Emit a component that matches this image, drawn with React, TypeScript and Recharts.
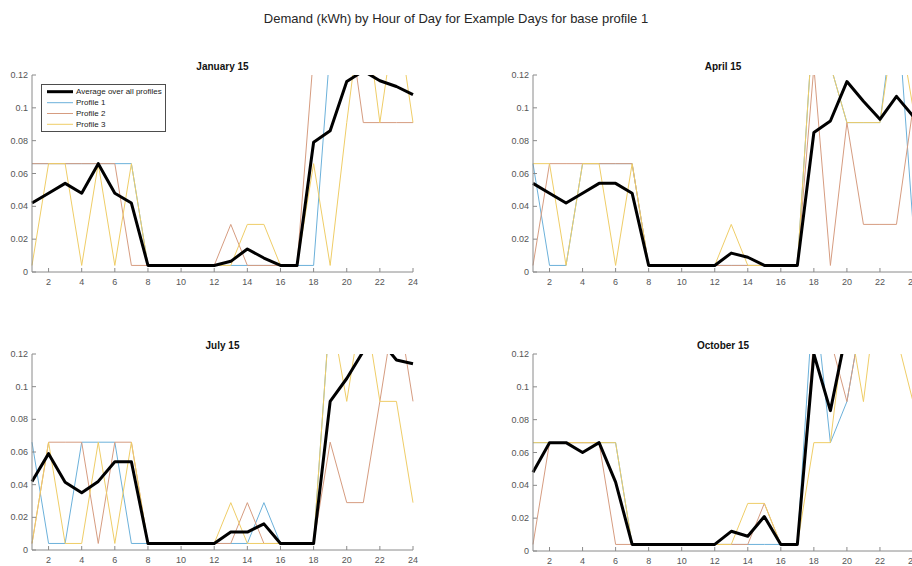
import React from 'react';
import { LineChart, Line, XAxis, YAxis, Legend } from 'recharts';

// Hours of the day and axis ticks
const HOURS = [1, 2, 3, 4, 5, 6, 7, 8, 9, 10, 11, 12, 13, 14, 15, 16, 17, 18, 19, 20, 21, 22, 23, 24];
const HOUR_TICKS = [2, 4, 6, 8, 10, 12, 14, 16, 18, 20, 22, 24];
const DEMAND_TICKS = [0, 0.02, 0.04, 0.06, 0.08, 0.1, 0.12];

// January 15 (kWh)
const JAN_AVG = [0.042, 0.048, 0.054, 0.048, 0.066, 0.048, 0.042, 0.004, 0.004, 0.004, 0.004, 0.004, 0.0065, 0.014, 0.0085, 0.004, 0.004, 0.079, 0.086, 0.116, 0.1225, 0.1165, 0.113, 0.108];
const JAN_P1 = [0.066, 0.066, 0.066, 0.066, 0.066, 0.066, 0.066, 0.004, 0.004, 0.004, 0.004, 0.004, 0.004, 0.004, 0.004, 0.004, 0.004, 0.004, 0.137, 0.15, 0.16, 0.15, 0.16, 0.15];
const JAN_P2 = [0.066, 0.066, 0.066, 0.066, 0.066, 0.066, 0.004, 0.004, 0.004, 0.004, 0.004, 0.004, 0.029, 0.004, 0.004, 0.004, 0.004, 0.133, 0.16, 0.163, 0.091, 0.091, 0.091, 0.091];
const JAN_P3 = [0.004, 0.066, 0.066, 0.004, 0.066, 0.004, 0.066, 0.004, 0.004, 0.004, 0.004, 0.004, 0.004, 0.029, 0.029, 0.004, 0.004, 0.066, 0.004, 0.091, 0.17, 0.091, 0.16, 0.091];

// April 15 (kWh)
const APR_AVG = [0.054, 0.048, 0.042, 0.048, 0.054, 0.054, 0.048, 0.004, 0.004, 0.004, 0.004, 0.004, 0.0115, 0.009, 0.004, 0.004, 0.004, 0.085, 0.092, 0.116, 0.104, 0.093, 0.107, 0.095];
const APR_P1 = [0.066, 0.004, 0.004, 0.066, 0.066, 0.066, 0.066, 0.004, 0.004, 0.004, 0.004, 0.004, 0.004, 0.004, 0.004, 0.004, 0.004, 0.159, 0.126, 0.091, 0.091, 0.091, 0.17, 0.029];
const APR_P2 = [0.004, 0.066, 0.066, 0.066, 0.066, 0.066, 0.066, 0.004, 0.004, 0.004, 0.004, 0.004, 0.004, 0.004, 0.004, 0.004, 0.004, 0.125, 0.004, 0.091, 0.029, 0.029, 0.029, 0.1];
const APR_P3 = [0.066, 0.066, 0.004, 0.066, 0.066, 0.004, 0.066, 0.004, 0.004, 0.004, 0.004, 0.004, 0.029, 0.004, 0.004, 0.004, 0.004, 0.159, 0.126, 0.091, 0.091, 0.091, 0.16, 0.1];

// July 15 (kWh)
const JUL_AVG = [0.042, 0.059, 0.0415, 0.035, 0.042, 0.054, 0.054, 0.004, 0.004, 0.004, 0.004, 0.004, 0.011, 0.011, 0.016, 0.004, 0.004, 0.004, 0.091, 0.105, 0.1217, 0.1287, 0.1163, 0.114];
const JUL_P1 = [0.066, 0.004, 0.004, 0.066, 0.066, 0.066, 0.004, 0.004, 0.004, 0.004, 0.004, 0.004, 0.004, 0.004, 0.029, 0.004, 0.004, 0.004, 0.149, 0.16, 0.16, 0.15, 0.16, 0.15];
const JUL_P2 = [0.004, 0.066, 0.066, 0.066, 0.004, 0.066, 0.066, 0.004, 0.004, 0.004, 0.004, 0.004, 0.004, 0.029, 0.004, 0.004, 0.004, 0.004, 0.066, 0.029, 0.029, 0.091, 0.155, 0.091];
const JUL_P3 = [0.004, 0.066, 0.004, 0.004, 0.066, 0.004, 0.066, 0.004, 0.004, 0.004, 0.004, 0.004, 0.029, 0.004, 0.004, 0.004, 0.004, 0.004, 0.149, 0.091, 0.155, 0.091, 0.091, 0.029];

// October 15 (kWh)
const OCT_AVG = [0.048, 0.066, 0.066, 0.06, 0.066, 0.042, 0.004, 0.004, 0.004, 0.004, 0.004, 0.004, 0.012, 0.009, 0.021, 0.004, 0.004, 0.12, 0.0855, 0.135, 0.14, 0.14, 0.14, 0.14];
const OCT_P1 = [0.066, 0.066, 0.066, 0.066, 0.066, 0.066, 0.004, 0.004, 0.004, 0.004, 0.004, 0.004, 0.004, 0.004, 0.004, 0.004, 0.004, 0.16, 0.066, 0.091, 0.149, 0.16, 0.16, 0.16];
const OCT_P2 = [0.004, 0.066, 0.066, 0.066, 0.066, 0.004, 0.004, 0.004, 0.004, 0.004, 0.004, 0.004, 0.004, 0.004, 0.029, 0.004, 0.004, 0.13, 0.129, 0.091, 0.149, 0.16, 0.16, 0.16];
const OCT_P3 = [0.066, 0.066, 0.066, 0.066, 0.066, 0.066, 0.004, 0.004, 0.004, 0.004, 0.004, 0.004, 0.004, 0.029, 0.029, 0.004, 0.004, 0.066, 0.066, 0.15, 0.091, 0.172, 0.131, 0.091];

const FONT = '"Liberation Sans", Arial, Helvetica, sans-serif';
const AXIS_COLOR = '#8a8a8a';
const TICK_TEXT = '#555555';

type SeriesDef = { key: 'avg' | 'p1' | 'p2' | 'p3'; name: string; color: string; width: number };

// Legend order; profiles are drawn first so the average sits on top
const SERIES: SeriesDef[] = [
  { key: 'avg', name: 'Average over all profiles', color: '#000000', width: 3 },
  { key: 'p1', name: 'Profile 1', color: '#6cb1da', width: 1 },
  { key: 'p2', name: 'Profile 2', color: '#d69c80', width: 1 },
  { key: 'p3', name: 'Profile 3', color: '#efcd67', width: 1 },
];
const DRAW_ORDER: SeriesDef[] = [SERIES[1], SERIES[2], SERIES[3], SERIES[0]];

type Panel = {
  title: string;
  avg: number[];
  p1: number[];
  p2: number[];
  p3: number[];
  left: number;
  top: number;
  yAxisWidth: number;
  plotHeight: number;
  legend: boolean;
};

const PANELS: Panel[] = [
  { title: 'January 15', avg: JAN_AVG, p1: JAN_P1, p2: JAN_P2, p3: JAN_P3, left: 0, top: 70, yAxisWidth: 32, plotHeight: 197, legend: true },
  { title: 'April 15', avg: APR_AVG, p1: APR_P1, p2: APR_P2, p3: APR_P3, left: 500, top: 70, yAxisWidth: 33, plotHeight: 197, legend: false },
  { title: 'July 15', avg: JUL_AVG, p1: JUL_P1, p2: JUL_P2, p3: JUL_P3, left: 0, top: 349, yAxisWidth: 32, plotHeight: 196, legend: false },
  { title: 'October 15', avg: OCT_AVG, p1: OCT_P1, p2: OCT_P2, p3: OCT_P3, left: 500, top: 349, yAxisWidth: 33, plotHeight: 197, legend: false },
];

const CHART_WIDTH = 430;
const MARGIN_TOP = 5;
const MARGIN_RIGHT = 17;
const X_AXIS_HEIGHT = 20;
const TICK_LEN = 4;

const HourTick = (props: any) => {
  const { x, y, payload } = props;
  return (
    <g>
      <line x1={x} y1={y} x2={x} y2={y - TICK_LEN} stroke={AXIS_COLOR} strokeWidth={1} />
      <text x={x} y={y + 10} textAnchor="middle" dominantBaseline="central" fontSize={9} fontFamily={FONT} fill={TICK_TEXT}>
        {payload.value}
      </text>
    </g>
  );
};

const DemandTick = (props: any) => {
  const { x, y, payload } = props;
  return (
    <g>
      <line x1={x} y1={y} x2={x + TICK_LEN} y2={y} stroke={AXIS_COLOR} strokeWidth={1} />
      <text x={x - 4} y={y} textAnchor="end" dominantBaseline="central" fontSize={9} fontFamily={FONT} fill={TICK_TEXT}>
        {String(payload.value)}
      </text>
    </g>
  );
};

const LegendBox = () => {
  const w = 125;
  const h = 48;
  const rowY = [7.7, 18.7, 29.5, 40.3];
  return (
    <svg width={w} height={h} style={{ display: 'block' }}>
      <rect x={0.5} y={0.5} width={w - 1} height={h - 1} fill="#ffffff" stroke="#4d4d4d" strokeWidth={1} />
      {SERIES.map((s, i) => (
        <g key={s.key}>
          <line x1={6} y1={rowY[i]} x2={32} y2={rowY[i]} stroke={s.color} strokeWidth={s.width} />
          <text x={35} y={rowY[i]} dominantBaseline="central" fontSize={8} fontFamily={FONT} fill="#1a1a1a">
            {s.name}
          </text>
        </g>
      ))}
    </svg>
  );
};

const DayPanel = ({ panel }: { panel: Panel }) => {
  const rows = HOURS.map((hour, i) => ({
    hour,
    avg: panel.avg[i],
    p1: panel.p1[i],
    p2: panel.p2[i],
    p3: panel.p3[i],
  }));
  const height = MARGIN_TOP + panel.plotHeight + X_AXIS_HEIGHT;
  const plotLeft = panel.yAxisWidth;
  const plotRight = CHART_WIDTH - MARGIN_RIGHT;
  const centerX = (plotLeft + plotRight) / 2;
  return (
    <div style={{ position: 'absolute', left: panel.left, top: panel.top, width: CHART_WIDTH, height }}>
      <div
        style={{
          position: 'absolute',
          left: centerX - 100,
          width: 200,
          top: -10,
          textAlign: 'center',
          fontFamily: FONT,
          fontWeight: 'bold',
          fontSize: 10,
          lineHeight: '14px',
          color: '#111',
        }}
      >
        {panel.title}
      </div>
      <LineChart
        width={CHART_WIDTH}
        height={height}
        data={rows}
        margin={{ top: MARGIN_TOP, right: MARGIN_RIGHT, bottom: 0, left: 0 }}
      >
        <XAxis
          dataKey="hour"
          type="number"
          domain={[1, 24]}
          ticks={HOUR_TICKS}
          interval={0}
          height={X_AXIS_HEIGHT}
          tickSize={0}
          tickMargin={0}
          tickLine={false}
          axisLine={{ stroke: AXIS_COLOR, strokeWidth: 1 }}
          tick={<HourTick />}
        />
        <YAxis
          type="number"
          domain={[0, 0.12]}
          allowDataOverflow
          ticks={DEMAND_TICKS}
          interval={0}
          width={panel.yAxisWidth}
          tickSize={0}
          tickMargin={0}
          tickLine={false}
          axisLine={{ stroke: AXIS_COLOR, strokeWidth: 1 }}
          tick={<DemandTick />}
        />
        {DRAW_ORDER.map((s) => (
          <Line
            key={s.key}
            type="linear"
            dataKey={s.key}
            name={s.name}
            stroke={s.color}
            strokeWidth={s.width}
            strokeLinejoin="round"
            dot={false}
            activeDot={false}
            isAnimationActive={false}
          />
        ))}
        {panel.legend && (
          <Legend
            layout="vertical"
            align="center"
            verticalAlign="middle"
            wrapperStyle={{ left: 41, top: 14, width: 125, height: 48 }}
            content={() => <LegendBox />}
          />
        )}
      </LineChart>
    </div>
  );
}

export default function App() {
  return (
    <div
      style={{
        position: 'absolute',
        left: 0,
        top: 0,
        width: 912,
        height: 566,
        overflow: 'hidden',
        background: '#ffffff',
        fontFamily: FONT,
      }}
    >
      <div
        style={{
          position: 'absolute',
          left: 0,
          width: 912,
          top: 11,
          textAlign: 'center',
          fontSize: 13,
          lineHeight: '16px',
          color: '#262626',
        }}
      >
        Demand (kWh) by Hour of Day for Example Days for base profile 1
      </div>
      {PANELS.map((p) => (
        <DayPanel key={p.title} panel={p} />
      ))}
    </div>
  );
}
